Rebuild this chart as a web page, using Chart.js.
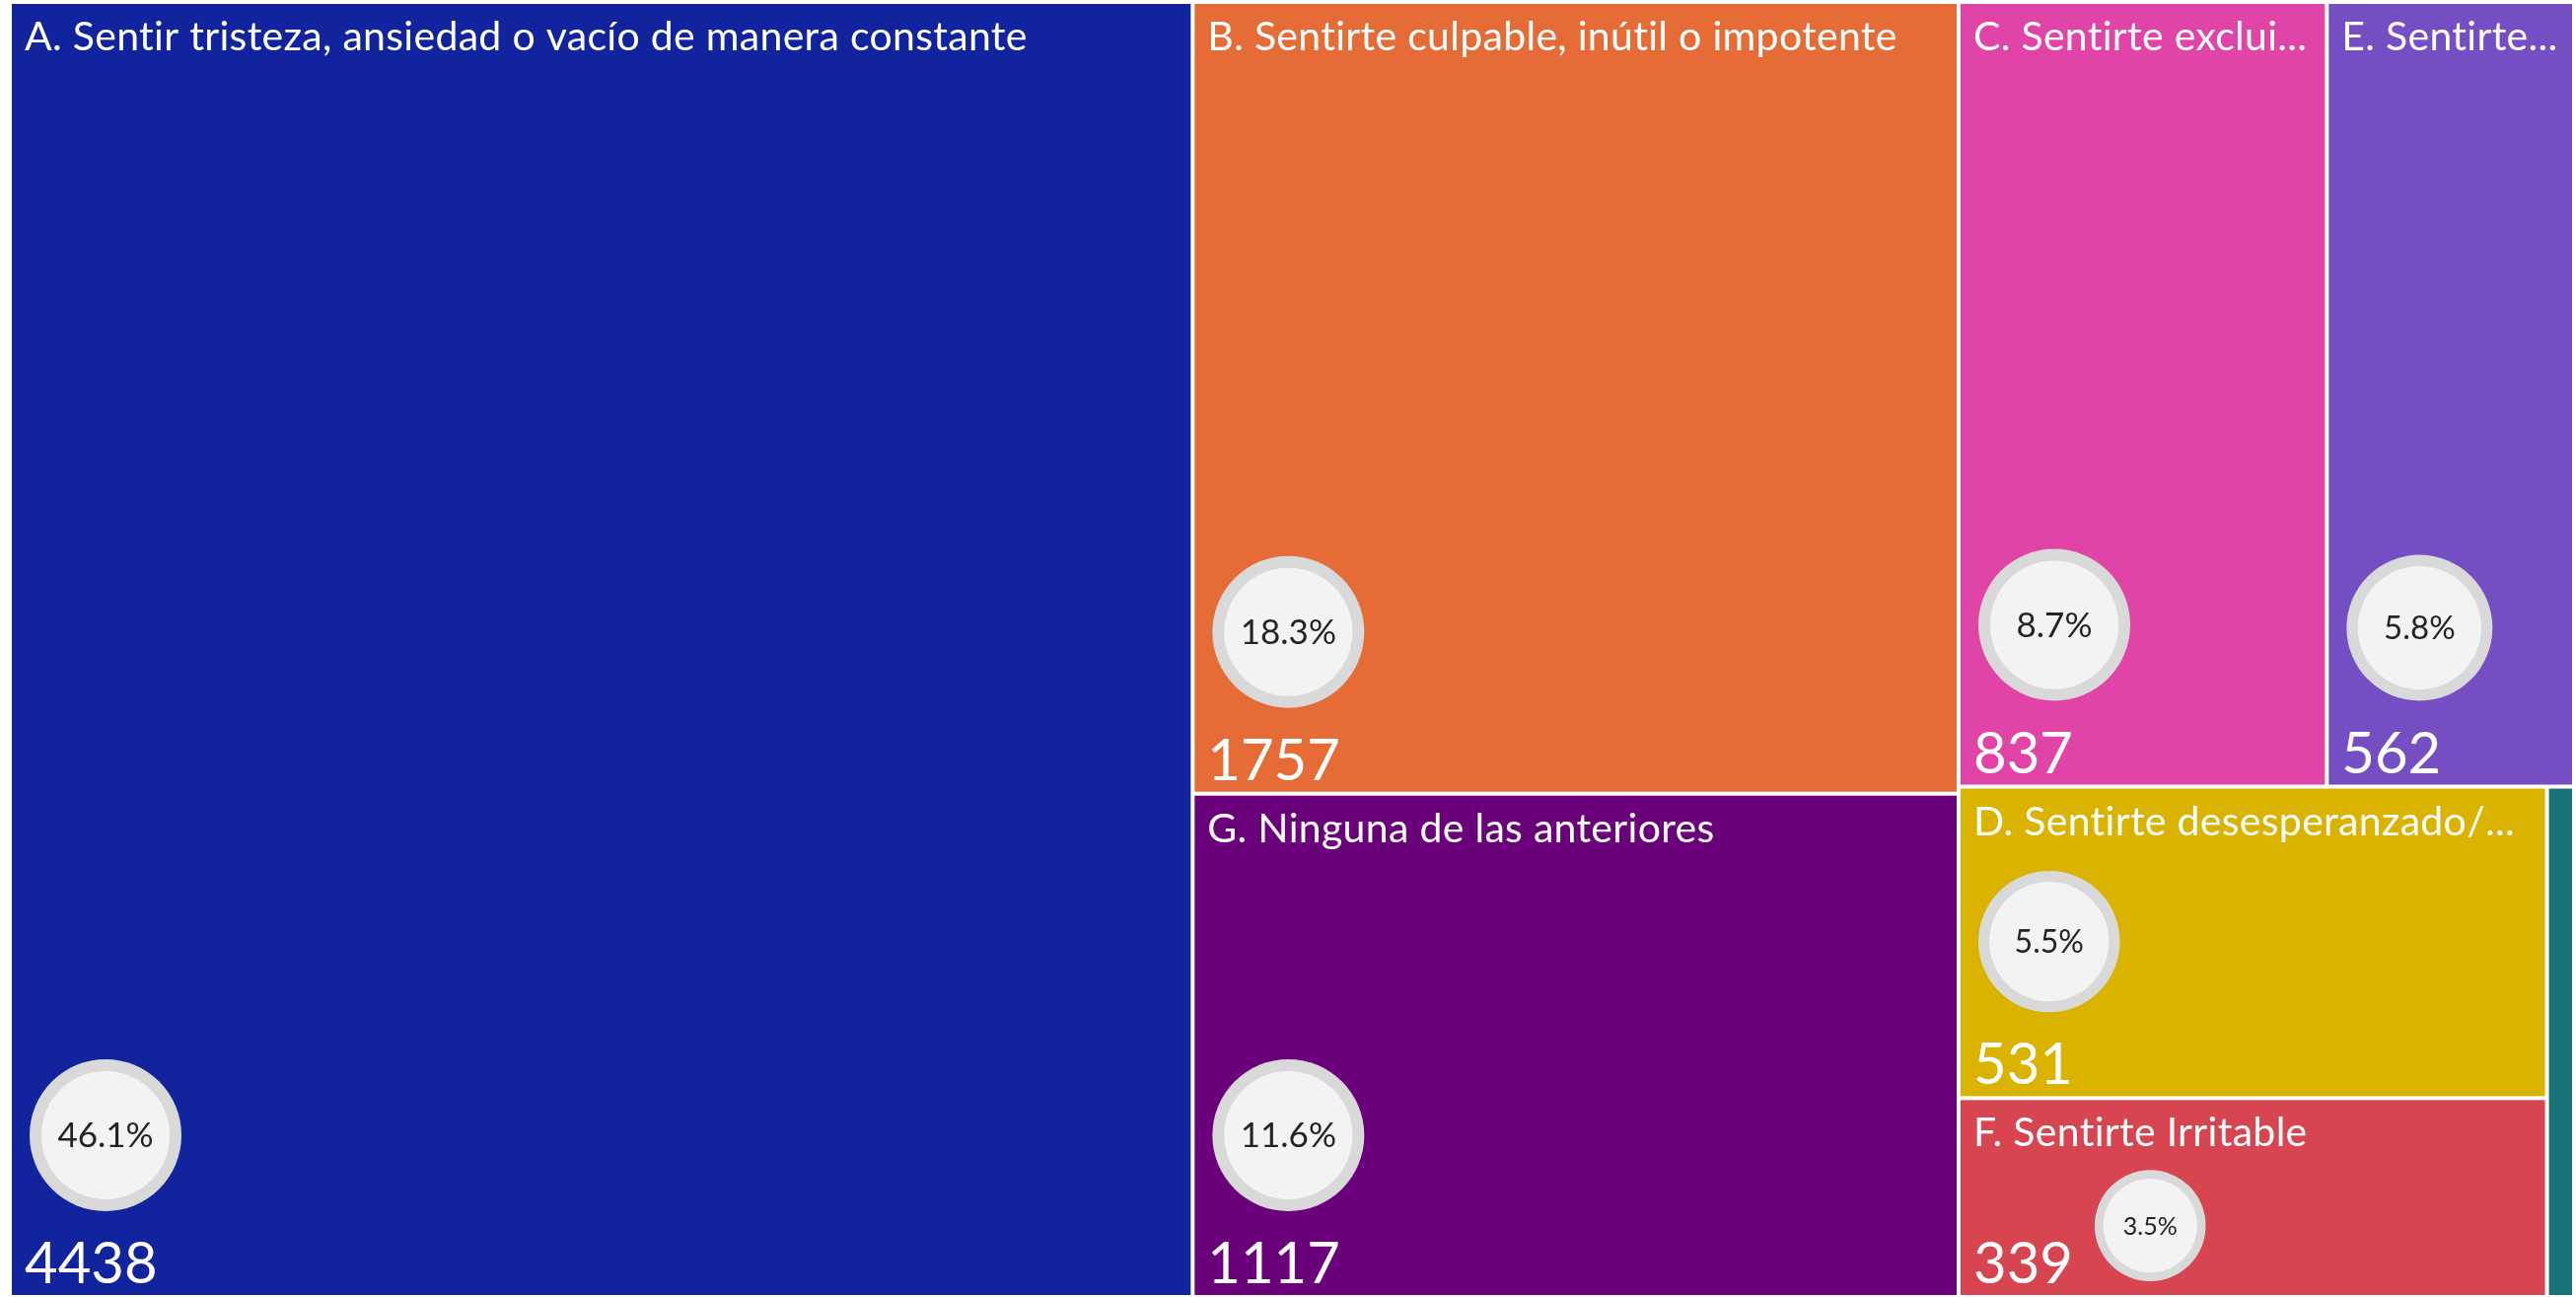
<!DOCTYPE html>
<html>
<head>
<meta charset="utf-8">
<script src="https://cdn.jsdelivr.net/npm/chart.js@4.4.1/dist/chart.umd.min.js"></script>
<style>
  html, body { margin: 0; padding: 0; background: #ffffff; }
  #wrap { width: 2612px; height: 1315px; }
</style>
</head>
<body>
<div id="wrap"><canvas id="treemapChart"></canvas></div>
<script>
// categories and counts
const categories = [
    'A. Sentir tristeza, ansiedad o vacío de manera constante',
    'B. Sentirte culpable, inútil o impotente',
    'C. Sentirte excluido/a o aislado/a',
    'D. Sentirte desesperanzado/a o pesimista',
    'E. Sentirte sin energía o fatigado/a',
    'F. Sentirte Irritable',
    'G. Ninguna de las anteriores',
    'H. Otro'
];
const counts = [4438, 1757, 837, 531, 562, 339, 1117, 40];
const colors = ['#12239E', '#E66C37', '#E044A7', '#D9B300', '#744EC2', '#D64550', '#6B007B', '#197278'];

const total = counts.reduce((s, v) => s + v, 0);
const FONT = 'Lato, "Open Sans", sans-serif';

// squarified layout (golden ratio), same idea as d3.treemapSquarify
function squarify(items, x0, y0, x1, y1) {
    const out = [];
    const ratio = (1 + Math.sqrt(5)) / 2;
    let value = items.reduce((s, d) => s + d.value, 0);
    let i0 = 0, i1 = 0;
    const n = items.length;
    while (i0 < n) {
        const dx = x1 - x0, dy = y1 - y0;
        let sum = items[i1++].value;
        let minV = sum, maxV = sum;
        const alpha = Math.max(dy / dx, dx / dy) / (value * ratio);
        let beta = sum * sum * alpha;
        let minRatio = Math.max(maxV / beta, beta / minV);
        for (; i1 < n; ++i1) {
            const v = items[i1].value;
            sum += v;
            if (v < minV) minV = v;
            if (v > maxV) maxV = v;
            beta = sum * sum * alpha;
            const r = Math.max(maxV / beta, beta / minV);
            if (r > minRatio) { sum -= v; break; }
            minRatio = r;
        }
        const row = items.slice(i0, i1);
        if (dx < dy) {
            const h = value === sum ? dy : dy * sum / value;
            let x = x0;
            row.forEach(d => {
                const w = dx * d.value / sum;
                out.push(Object.assign({}, d, { x0: x, y0: y0, x1: x + w, y1: y0 + h }));
                x += w;
            });
            y0 += h;
        } else {
            const w = value === sum ? dx : dx * sum / value;
            let y = y0;
            row.forEach(d => {
                const h = dy * d.value / sum;
                out.push(Object.assign({}, d, { x0: x0, y0: y, x1: x0 + w, y1: y + h }));
                y += h;
            });
            x0 += w;
        }
        value -= sum;
        i0 = i1;
    }
    return out;
}

function fitText(ctx, text, maxW) {
    if (ctx.measureText(text).width <= maxW) return text;
    let t = text;
    while (t.length > 1 && ctx.measureText(t.trimEnd() + '...').width > maxW) t = t.slice(0, -1);
    return t.trimEnd() + '...';
}

function drawBubble(ctx, cx, cy, r, label) {
    ctx.beginPath();
    ctx.arc(cx, cy, r, 0, Math.PI * 2);
    ctx.fillStyle = '#D9D9D9';
    ctx.fill();
    ctx.beginPath();
    ctx.arc(cx, cy, r * 0.845, 0, Math.PI * 2);
    ctx.fillStyle = '#F3F3F3';
    ctx.fill();
    ctx.fillStyle = '#252423';
    ctx.letterSpacing = '0px';
    ctx.font = '400 ' + Math.round(r * 0.45) + 'px ' + FONT;
    ctx.textAlign = 'center';
    ctx.textBaseline = 'middle';
    ctx.fillText(label, cx, cy + 1);
}

const treemapPlugin = {
    id: 'treemapCells',
    afterDatasetsDraw(chart) {
        const { ctx, scales: { x, y } } = chart;
        const items = categories.map((c, i) => ({ label: c, value: counts[i], color: colors[i] }))
            .sort((a, b) => b.value - a.value);
        const cells = squarify(items,
            x.getPixelForValue(0), y.getPixelForValue(0),
            x.getPixelForValue(1), y.getPixelForValue(1));
        const gap = 2;
        ctx.save();
        cells.forEach(c => {
            const fx = c.x0 + gap, fy = c.y0 + gap;
            const fw = c.x1 - c.x0 - gap * 2, fh = c.y1 - c.y0 - gap * 2;
            ctx.fillStyle = c.color;
            ctx.fillRect(fx, fy, fw, fh);
            if (fw < 60) return;

            ctx.save();
            ctx.beginPath();
            ctx.rect(fx, fy, fw, fh);
            ctx.clip();

            // title
            ctx.fillStyle = '#ffffff';
            ctx.font = '41px ' + FONT;
            ctx.letterSpacing = '0.3px';
            ctx.textAlign = 'left';
            ctx.textBaseline = 'alphabetic';
            ctx.fillText(fitText(ctx, c.label, fw - 26), fx + 13, fy + 47);

            // value
            ctx.font = '58px ' + FONT;
            ctx.letterSpacing = '0px';
            const valText = String(c.value);
            const valBase = fy + fh - 12;
            ctx.fillText(valText, fx + 13, valBase);
            const valW = ctx.measureText(valText).width;

            // percentage bubble
            const pct = (c.value / total * 100).toFixed(1) + '%';
            if (fh >= 250) {
                const r = Math.min(77, fw * 0.3, fh * 0.23);
                drawBubble(ctx, fx + 18 + r, fy + fh - 85 - r, r, pct);
            } else {
                const r = Math.min(77, (fh - 85) / 2);
                drawBubble(ctx, fx + 13 + valW + 22 + r, fy + fh - 14 - r, r, pct);
            }
            ctx.restore();
        });
        ctx.restore();
    }
};

const ctx = document.querySelector('#treemapChart').getContext('2d');
const treemapChart = new Chart(ctx, {
    type: 'scatter',
    data: {
        datasets: [{ label: 'Respuestas', data: [] }]
    },
    options: {
        responsive: true,
        maintainAspectRatio: false,
        animation: false,
        layout: { padding: { left: 10, top: 2, right: 2, bottom: 0 } },
        scales: {
            x: { type: 'linear', min: 0, max: 1, display: false },
            y: { type: 'linear', min: 0, max: 1, reverse: true, display: false }
        },
        plugins: {
            legend: { display: false },
            tooltip: { enabled: false }
        }
    },
    plugins: [treemapPlugin]
});
</script>
</body>
</html>
